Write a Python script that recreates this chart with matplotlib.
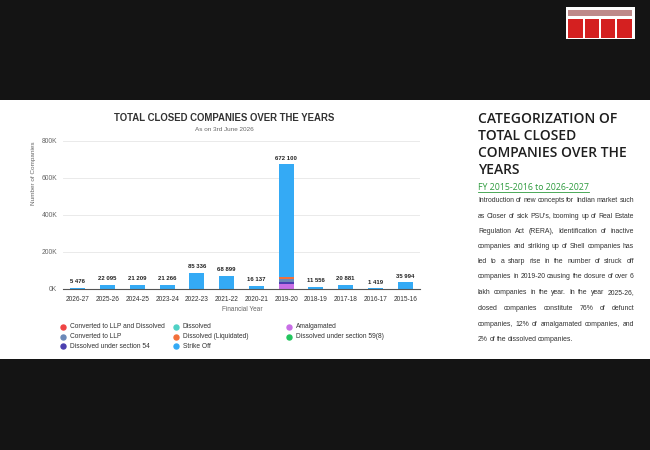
import numpy as np
import matplotlib
matplotlib.use("Agg")
import matplotlib.pyplot as plt
from matplotlib.patches import Rectangle
from matplotlib.lines import Line2D

# ---------------- data ----------------
years = ["2026-27", "2025-26", "2024-25", "2023-24", "2022-23", "2021-22",
         "2020-21", "2019-20", "2018-19", "2017-18", "2016-17", "2015-16"]
totals = [5476, 22095, 21209, 21266, 85336, 68899, 16137, 672100, 11556, 20881, 1419, 35994]

amalgamated = [0, 0, 0, 0, 0, 0, 0, 27000, 0, 0, 0, 0]
dissolved_54 = [0, 0, 0, 0, 0, 0, 0, 8000, 0, 0, 0, 0]
converted_llp = [0, 0, 0, 0, 0, 0, 0, 16000, 0, 0, 0, 0]
dissolved_liq = [0, 0, 0, 0, 0, 0, 0, 10000, 0, 0, 0, 0]
dissolved = [0, 0, 0, 0, 0, 0, 0, 0, 0, 0, 0, 0]
strike_off = [5476, 22095, 21209, 21266, 85336, 68899, 16137, 611100, 11556, 20881, 1419, 35994]

legend_names = ["Converted to LLP and Dissolved", "Dissolved", "Amalgamated",
                "Converted to LLP", "Dissolved (Liquidated)", "Dissolved under section 59(8)",
                "Dissolved under section 54", "Strike Off"]
colors = {
    "Converted to LLP and Dissolved": "#ef4444",
    "Dissolved": "#4fd1c5",
    "Amalgamated": "#c86ee6",
    "Converted to LLP": "#6b88b8",
    "Dissolved (Liquidated)": "#f2703a",
    "Dissolved under section 59(8)": "#22c55e",
    "Dissolved under section 54": "#4b3fb0",
    "Strike Off": "#34aaf5",
}
stack = [("Amalgamated", amalgamated), ("Dissolved under section 54", dissolved_54),
         ("Converted to LLP", converted_llp), ("Dissolved (Liquidated)", dissolved_liq),
         ("Dissolved", dissolved), ("Strike Off", strike_off)]

y_ticks = [0, 200000, 400000, 600000, 800000]
y_ticklabels = ["0K", "200K", "400K", "600K", "800K"]

heading_lines = ["CATEGORIZATION OF", "TOTAL CLOSED", "COMPANIES OVER THE", "YEARS"]
fy_link = "FY 2015-2016 to 2026-2027"
para_lines = [
    "Introduction of new concepts for Indian market such",
    "as Closer of sick PSU's, booming up of Real Estate",
    "Regulation Act (RERA), Identification of inactive",
    "companies and striking up of Shell companies has",
    "led to a sharp rise in the number of struck off",
    "companies in 2019-20 causing the closure of over 6",
    "lakh companies in the year. In the year 2025-26,",
    "closed companies constitute 76% of defunct",
    "companies, 12% of amalgamated companies, and",
    "2% of the dissolved companies.",
]

# ---------------- figure ----------------
W, H = 650, 450
plt.rcParams['font.family'] = ['Liberation Sans', 'DejaVu Sans']
fig = plt.figure(figsize=(6.5, 4.5), dpi=100, facecolor="#141414")

def fx(x):
    return x / W

def fy(y):
    return 1 - y / H

# white panel
fig.patches.append(Rectangle((0, fy(359)), 1, (359 - 100) / H, transform=fig.transFigure,
                             facecolor="white", edgecolor="none", zorder=-5))

# logo (no Devanagari font available: draw shapes)
fig.patches.append(Rectangle((fx(566), fy(39)), 69 / W, 32 / H, transform=fig.transFigure,
                             facecolor="white", edgecolor="none", zorder=1))
fig.patches.append(Rectangle((fx(568), fy(16)), 64 / W, 6 / H, transform=fig.transFigure,
                             facecolor="#8a2a2a", edgecolor="none", zorder=2, alpha=0.55))
for (x0, w0) in [(568, 15), (585, 14), (601, 14), (617, 15)]:
    fig.patches.append(Rectangle((fx(x0), fy(38)), w0 / W, 19 / H, transform=fig.transFigure,
                                 facecolor="#d42020", edgecolor="none", zorder=2))

# ---------------- chart ----------------
ax = fig.add_axes([fx(63), fy(288.7), 357 / W, 148 / H])
ax.set_facecolor("none")
x = np.arange(len(years))
bottom = np.zeros(len(years))
for name, vals in stack:
    v = np.array(vals, dtype=float)
    ax.bar(x, v, width=0.5, bottom=bottom, color=colors[name], zorder=3, linewidth=0)
    bottom += v

for xi, t in zip(x, totals):
    ax.annotate(f"{t:,}".replace(",", " "), (xi, t), xytext=(0, 2.5), textcoords="offset points",
                ha="center", va="bottom", fontsize=4.3, fontweight="bold", color="#222")

ax.set_xlim(-0.5, len(years) - 0.5)
ax.set_ylim(0, 800000)
ax.set_yticks(y_ticks)
ax.set_yticklabels(y_ticklabels, fontsize=4.9, color="#666")
ax.set_xticks(x)
ax.set_xticklabels(years, fontsize=4.7, color="#333")
ax.tick_params(axis="y", length=0, pad=4)
ax.tick_params(axis="x", length=0, pad=5.5)
ax.grid(axis="y", color="#e6e6e6", linewidth=0.6, zorder=0)
for s in ["top", "right", "left"]:
    ax.spines[s].set_visible(False)
ax.spines["bottom"].set_color("#555")
ax.spines["bottom"].set_linewidth(0.8)
ax.spines["bottom"].set_zorder(4)

fig.text(fx(224), fy(118), "TOTAL CLOSED COMPANIES OVER THE YEARS", ha="center", va="center",
         fontsize=6.95, fontweight="bold", color="#333")
fig.text(fx(224), fy(129.5), "As on 3rd June 2026", ha="center", va="center", fontsize=4.55, color="#666")
fig.text(fx(33), fy(173), "Number of Companies", rotation=90, ha="center", va="center",
         fontsize=4.6, color="#666")
fig.text(fx(242), fy(309.5), "Financial Year", ha="center", va="center", fontsize=4.7, color="#666")

# legend (row-wise, 3 columns)
col_x = [63, 176, 289]
row_y = [327, 336.7, 346]
for i, name in enumerate(legend_names):
    r, c = divmod(i, 3)
    fig.lines.append(Line2D([fx(col_x[c])], [fy(row_y[r])], transform=fig.transFigure,
                            marker="o", markersize=3.6, color=colors[name], linestyle="none"))
    fig.text(fx(col_x[c] + 7), fy(row_y[r]), name, ha="left", va="center", fontsize=4.75, color="#333")

# ---------------- right text panel ----------------
for line, yy in zip(heading_lines, [119, 136, 153, 169.5]):
    fig.text(fx(478), fy(yy), line, ha="left", va="center", fontsize=10.0,
             family=["Open Sans", "DejaVu Sans"], fontweight="semibold", color="#1e1e1e")

t = fig.text(fx(478), fy(188), fy_link, ha="left", va="center", fontsize=6.3,
             family=["Open Sans", "DejaVu Sans"], color="#2e9b3e")
fig.canvas.draw()
renderer = fig.canvas.get_renderer()
bb = t.get_window_extent(renderer)
fig.lines.append(Line2D([bb.x0 / W, bb.x1 / W], [fy(192), fy(192)], transform=fig.transFigure,
                        color="#2e9b3e", linewidth=0.6))

# justified paragraph
para_x0, para_x1 = 478, 634
para_y = [200, 216, 231.3, 246.5, 261.5, 277, 292.3, 308, 324, 339.5]
pfs = 4.95
for li, (line, yy) in enumerate(zip(para_lines, para_y)):
    words = line.split(" ")
    texts = []
    widths = []
    for w in words:
        tt = fig.text(0, fy(yy), w, ha="left", va="center", fontsize=pfs, color="#333")
        texts.append(tt)
        widths.append(tt.get_window_extent(renderer).width)
    if li == len(para_lines) - 1:
        gap = 1.5
    else:
        gap = ((para_x1 - para_x0) - sum(widths)) / max(len(words) - 1, 1)
    cur = para_x0
    for tt, wd in zip(texts, widths):
        tt.set_x(fx(cur))
        cur += wd + gap

fig.savefig("out.png", dpi=100, facecolor=fig.get_facecolor())
